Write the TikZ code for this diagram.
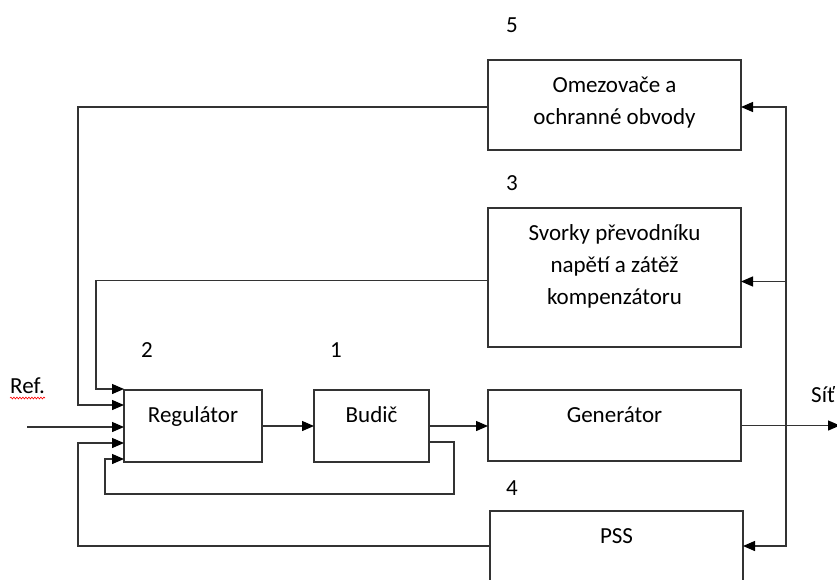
\documentclass[tikz,border=0pt]{standalone}
\usepackage{fontspec}
\setmainfont{Carlito}
\usetikzlibrary{arrows.meta,positioning,decorations.pathmorphing}

\tikzset{
  blok/.style={draw=black!80,line width=1.3pt,minimum width=253pt,inner sep=0pt,outer sep=0pt,anchor=north west},
  popis/.style={font=\fontsize{23}{32}\selectfont,align=center,inner sep=0pt,anchor=base},
  sip/.style={draw=black!80,line width=1.3pt,-{Triangle[length=12pt,width=10pt,color=black]}},
  vlnka/.style={draw=red,line width=0.6pt,decorate,decoration={snake,amplitude=0.9pt,segment length=3pt}},
}

\begin{document}
\begin{tikzpicture}[x=1pt,y=-1pt]
\useasboundingbox (0,0) rectangle (837,579);
\node[blok,minimum height=90pt] (omez) at (488,60) {};
\node[blok,minimum height=139pt] (svorky) at (488,208) {};
\node[blok,minimum width=138pt,minimum height=72pt] (reg) at (124,390) {};
\node[blok,minimum width=115pt,minimum height=72pt] (budic) at (314,390) {};
\node[blok,minimum height=71pt] (gen) at (488,390) {};
\node[blok,minimum height=70pt] (pss) at (490,511) {};
\node[popis] (omezt) at ([yshift=-64pt]omez.north) {Omezovače a\\ochranné obvody};
\node[popis] (svorkyt) at ([yshift=-96pt]svorky.north) {Svorky převodníku\\napětí a zátěž\\kompenzátoru};
\node[popis] (regt) at ([yshift=-32pt]reg.north) {Regulátor};
\node[popis] (budict) at ([yshift=-32pt]budic.north) {Budič};
\node[popis] (gent) at ([yshift=-32pt]gen.north) {Generátor};
\node[popis] (psst) at ([yshift=-32pt]pss.north) {PSS};
\node[popis] (c5) at (512,32) {5};
\node[popis] (c3) at (512,190) {3};
\node[popis] (c2) at (147,357) {2};
\node[popis] (c1) at (336,357) {1};
\node[popis] (c4) at (512,495) {4};
\node[popis,anchor=base west] (refl) at (10,393) {Ref.};
\node[popis,anchor=base west] (sit) at (811,402) {Síť};
\draw[vlnka] ([yshift=-5pt]refl.base west) -- ([yshift=-5pt]refl.base east);
\coordinate (k1) at (78,405);
\coordinate (k2) at (96,389);
\coordinate (ref) at (27,427);
\coordinate (k4) at (78,443);
\coordinate (k5) at (454,494);
\coordinate (k6) at (105,459);
\coordinate (p1) at (786,0);
\coordinate (vystup) at (840,0);
\draw[sip] ([yshift=-2pt]omez.west) -| (k1) -- (k1 -| reg.west);
\draw[sip] ([yshift=-3pt]svorky.west) -| (k2) -- (k2 -| reg.west);
\draw[sip] (ref) -- (ref -| reg.west);
\draw[sip] (pss.west) -| (k4) -- (k4 -| reg.west);
\draw[sip] ([yshift=-16pt]budic.east) -| (k5) -| (k6) -- (k6 -| reg.west);
\draw[sip] (reg.east) -- (budic.west);
\draw[sip] (budic.east) -- (budic.east -| gen.west);
\draw[sip] (gen.east) -- (gen.east -| vystup);
\draw[sip] (gen.east -| p1) |- ([yshift=-2pt]omez.east);
\draw[sip] (gen.east -| p1) |- ([yshift=-4pt]svorky.east);
\draw[sip] (gen.east -| p1) |- (pss.east);
\end{tikzpicture}
\end{document}
